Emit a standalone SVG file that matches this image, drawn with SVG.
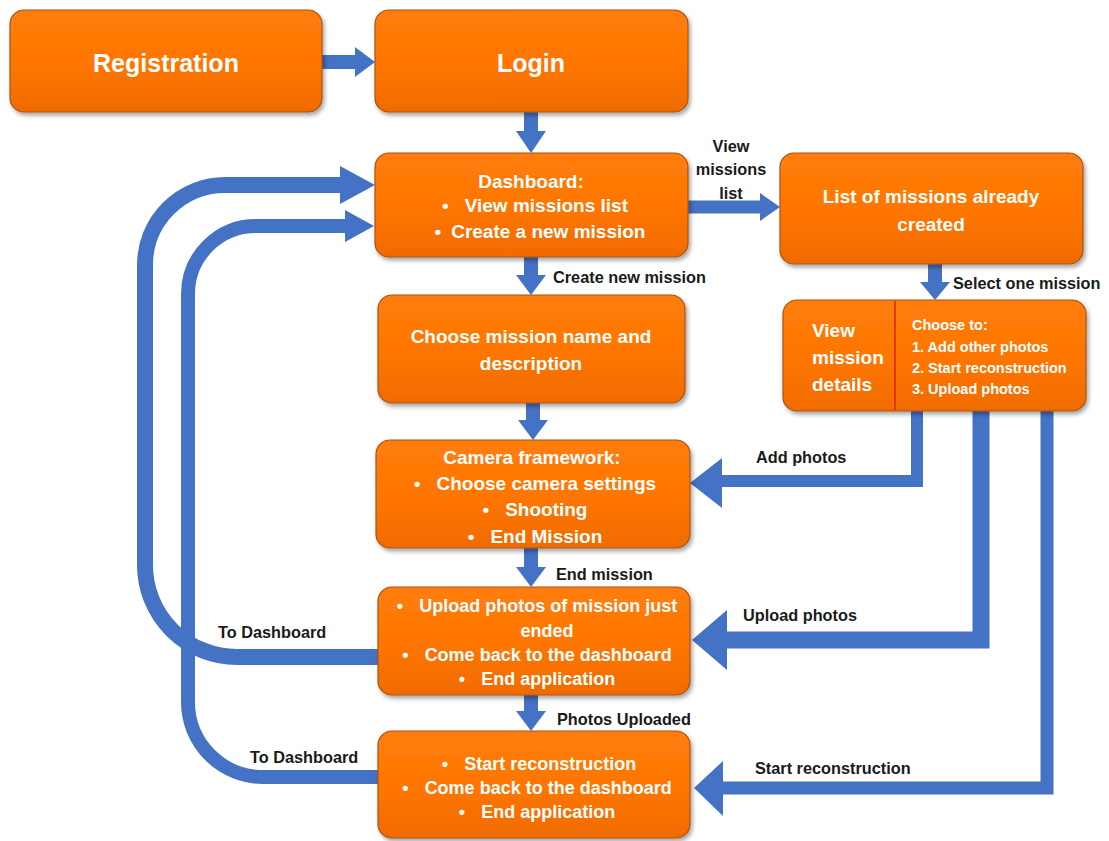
<svg xmlns="http://www.w3.org/2000/svg" width="1109" height="841" viewBox="0 0 1109 841">
<defs>
<linearGradient id="og" x1="0" y1="0" x2="0" y2="1">
<stop offset="0" stop-color="#FF7D0C"/>
<stop offset="0.5" stop-color="#FF7600"/>
<stop offset="1" stop-color="#F06B00"/>
</linearGradient>
<filter id="sh" x="-10%" y="-10%" width="125%" height="130%">
<feDropShadow dx="2" dy="3" stdDeviation="2" flood-color="#000" flood-opacity="0.35"/>
</filter>
</defs>
<style>
.box{fill:url(#og);stroke:#A9520F;stroke-width:1.2;filter:url(#sh)}
.t{font-family:"Liberation Sans",Arial,sans-serif;font-weight:bold;fill:#FFFFFF}
.big{font-size:25px}
.m{font-size:19px}
.s{font-size:18px}
.d{font-size:19px}
.c{font-size:14.5px}
.mid{text-anchor:middle}
.lbl{font-family:"Liberation Sans",Arial,sans-serif;font-weight:bold;font-size:16.3px;fill:#1A1A1A}
.shaft{fill:none;stroke:#4472C4;stroke-linejoin:miter}
.head{fill:#4472C4}
</style>
<rect width="1109" height="841" fill="#FFFFFF"/>

<g id="connectors">
<g id="c-reg-login"><path class="shaft" stroke-width="14" d="M322,62 H357"/><polygon class="head" points="375,62 355,47 355,77"/></g>
<g id="c-login-dash"><path class="shaft" stroke-width="14" d="M531,112 V133"/><polygon class="head" points="531,153 516,131 546,131"/></g>
<g id="c-dash-list"><path class="shaft" stroke-width="13" d="M688,207 H762"/><polygon class="head" points="780,207 760,193 760,221"/></g>
<g id="c-dash-choose"><path class="shaft" stroke-width="14" d="M531,257 V277"/><polygon class="head" points="531,295 516,275 546,275"/></g>
<g id="c-list-details"><path class="shaft" stroke-width="14" d="M935,264 V284"/><polygon class="head" points="935,300 920,282 950,282"/></g>
<g id="c-choose-camera"><path class="shaft" stroke-width="14" d="M533,403 V422"/><polygon class="head" points="533,440 518,420 548,420"/></g>
<g id="c-camera-upload"><path class="shaft" stroke-width="14" d="M531,548 V569"/><polygon class="head" points="531,587 516,567 546,567"/></g>
<g id="c-upload-start"><path class="shaft" stroke-width="14" d="M531,695 V713"/><polygon class="head" points="531,731 516,711 546,711"/></g>
<g id="c-add-photos"><path class="shaft" stroke-width="12" d="M917,411 V481 H718"/><polygon class="head" points="690,483 722,458 722,508"/></g>
<g id="c-upload-photos"><path class="shaft" stroke-width="17" d="M981,411 V640 H724"/><polygon class="head" points="692,640 727,610 727,670"/></g>
<g id="c-start-recon"><path class="shaft" stroke-width="13" d="M1047,411 V788 H720"/><polygon class="head" points="694,788 723,761 723,816"/></g>
<g id="c-upload-dash"><path class="shaft" stroke-width="16" d="M378,657 H237 A92,92 0 0 1 145,565 V265 A80,80 0 0 1 225,185 H344"/><polygon class="head" points="375,185 340,166 340,204"/></g>
<g id="c-start-dash"><path class="shaft" stroke-width="14" d="M378,777 H263 A75,75 0 0 1 188,702 V294 A68,68 0 0 1 256,226 H348"/><polygon class="head" points="374,226 345,210 345,242"/></g>
<g id="connector-labels">
<text class="lbl mid" x="731" y="152">View</text>
<text class="lbl mid" x="731" y="175">missions</text>
<text class="lbl mid" x="731" y="199">list</text>
<text class="lbl" x="553" y="283">Create new mission</text>
<text class="lbl" x="953" y="289">Select one mission</text>
<text class="lbl" x="756" y="463">Add photos</text>
<text class="lbl" x="556" y="580">End mission</text>
<text class="lbl" x="743" y="621">Upload photos</text>
<text class="lbl" x="218" y="638">To Dashboard</text>
<text class="lbl" x="557" y="725">Photos Uploaded</text>
<text class="lbl" x="250" y="763">To Dashboard</text>
<text class="lbl" x="755" y="774">Start reconstruction</text>
</g>
</g>

<g id="node-registration">
<rect class="box" x="10" y="10" width="312" height="102" rx="14"/>
<text class="t big mid" x="166" y="72">Registration</text>
</g>
<g id="node-login">
<rect class="box" x="375" y="10" width="313" height="102" rx="14"/>
<text class="t big mid" x="531" y="72">Login</text>
</g>
<g id="node-dashboard">
<rect class="box" x="375" y="153" width="313" height="104" rx="14"/>
<text class="t m mid" x="531" y="188">Dashboard:</text>
<text class="t m mid" x="535" y="212"><tspan>•</tspan><tspan dx="16">View missions list</tspan></text>
<text class="t m mid" x="540" y="238"><tspan>•</tspan><tspan dx="10">Create a new mission</tspan></text>
</g>
<g id="node-list">
<rect class="box" x="780" y="153" width="303" height="111" rx="14"/>
<text class="t m mid" x="931" y="203">List of missions already</text>
<text class="t m mid" x="931" y="231">created</text>
</g>
<g id="node-choose">
<rect class="box" x="378" y="295" width="307" height="108" rx="14"/>
<text class="t m mid" x="531" y="343">Choose mission name and</text>
<text class="t m mid" x="531" y="370">description</text>
</g>
<g id="node-details">
<rect class="box" x="783" y="300" width="303" height="111" rx="14"/>
<line x1="895" y1="301" x2="895" y2="410" stroke="#E0201A" stroke-width="1.5"/>
<text class="t d" x="812" y="337">View</text>
<text class="t d" x="812" y="364">mission</text>
<text class="t d" x="812" y="391">details</text>
<text class="t c" x="912" y="330">Choose to:</text>
<text class="t c" x="912" y="352">1. Add other photos</text>
<text class="t c" x="912" y="373">2. Start reconstruction</text>
<text class="t c" x="912" y="394">3. Upload photos</text>
</g>
<g id="node-camera">
<rect class="box" x="376" y="440" width="314" height="108" rx="14"/>
<text class="t m mid" x="532" y="464">Camera framework:</text>
<text class="t m mid" x="535" y="490"><tspan>•</tspan><tspan dx="16">Choose camera settings</tspan></text>
<text class="t m mid" x="535" y="516"><tspan>•</tspan><tspan dx="16">Shooting</tspan></text>
<text class="t m mid" x="535" y="543"><tspan>•</tspan><tspan dx="16">End Mission</tspan></text>
</g>
<g id="node-upload">
<rect class="box" x="378" y="587" width="312" height="108" rx="14"/>
<text class="t s mid" x="537" y="612"><tspan>•</tspan><tspan dx="16">Upload photos of mission just</tspan></text>
<text class="t s mid" x="547" y="637">ended</text>
<text class="t s mid" x="537" y="661"><tspan>•</tspan><tspan dx="16">Come back to the dashboard</tspan></text>
<text class="t s mid" x="537" y="685"><tspan>•</tspan><tspan dx="16">End application</tspan></text>
</g>
<g id="node-start">
<rect class="box" x="378" y="731" width="312" height="107" rx="14"/>
<text class="t s mid" x="539" y="770"><tspan>•</tspan><tspan dx="16">Start reconstruction</tspan></text>
<text class="t s mid" x="537" y="794"><tspan>•</tspan><tspan dx="16">Come back to the dashboard</tspan></text>
<text class="t s mid" x="537" y="818"><tspan>•</tspan><tspan dx="16">End application</tspan></text>
</g>
</svg>
